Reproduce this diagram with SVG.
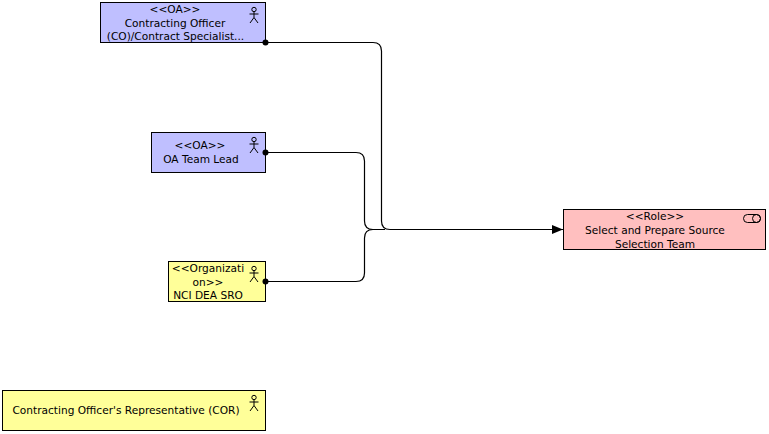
<svg xmlns="http://www.w3.org/2000/svg" width="769" height="434" viewBox="0 0 769 434">
<defs>
<g id="actor" fill="none" stroke="#000" stroke-width="1"><circle cx="0" cy="2.500" r="2.200"/><path d="M0 4.700V10.500M-4.500 7H4.500M0 10.500L-4 16M0 10.500L4 16"/></g>
<marker id="arrow" markerUnits="userSpaceOnUse" markerWidth="12" markerHeight="10" refX="11" refY="4.500" orient="auto"><path d="M0 0L11 4.500L0 9Z" fill="#000"/></marker>
</defs>
<style>
text{font-family:"DejaVu Sans","Liberation Sans",sans-serif;font-size:10.6px;fill:#000;text-anchor:middle}
.box{stroke:#000;stroke-width:1}
.oa{fill:#bfbfff}.org{fill:#ffff99}.role{fill:#ffbfbf}
.conn{fill:none;stroke:#000;stroke-width:1.200}
.dot{fill:#000}
</style>
<rect width="769" height="434" fill="#fff"/>
<g id="node-co">
<rect class="box oa" x="100.500" y="2.500" width="165" height="40"/>
<use href="#actor" x="254" y="7"/>
<text x="175" y="13">&lt;&lt;OA&gt;&gt;</text>
<text x="175" y="27">Contracting Officer</text>
<text x="175.500" y="40">(CO)/Contract Specialist...</text>
</g>
<g id="node-lead">
<rect class="box oa" x="151.500" y="132.500" width="114" height="40"/>
<use href="#actor" x="254" y="137"/>
<text x="200" y="149">&lt;&lt;OA&gt;&gt;</text>
<text x="201" y="163">OA Team Lead</text>
</g>
<g id="node-sro">
<rect class="box org" x="168.500" y="261.500" width="97" height="40"/>
<use href="#actor" x="254" y="266"/>
<text x="208" y="272">&lt;&lt;Organizati</text>
<text x="208" y="286">on&gt;&gt;</text>
<text x="208" y="299">NCI DEA SRO</text>
</g>
<g id="node-cor">
<rect class="box org" x="2.500" y="390.500" width="263" height="40"/>
<use href="#actor" x="254" y="395"/>
<text x="126" y="414">Contracting Officer's Representative (COR)</text>
</g>
<g id="node-role">
<rect class="box role" x="563.500" y="209.500" width="202" height="40"/>
<rect x="743.500" y="214.500" width="17" height="8" rx="4" fill="none" stroke="#000"/>
<circle cx="756.500" cy="218.500" r="4" fill="none" stroke="#000"/>
<text x="655" y="220">&lt;&lt;Role&gt;&gt;</text>
<text x="655" y="234">Select and Prepare Source</text>
<text x="655" y="248">Selection Team</text>
</g>
<g id="connectors">
<path class="conn" d="M266 42.500H373Q381.500 42.500 381.500 51V221Q381.500 229.500 390 229.500H563" marker-end="url(#arrow)"/>
<path class="conn" d="M266 152.500H356Q364.500 152.500 364.500 161V221Q364.500 229.500 373 229.500H385"/>
<path class="conn" d="M266 281.500H356Q364.500 281.500 364.500 273V238Q364.500 229.500 373 229.500H385"/>
<circle class="dot" cx="265.500" cy="42.500" r="3"/>
<circle class="dot" cx="265.500" cy="152.500" r="3"/>
<circle class="dot" cx="265.500" cy="281.500" r="3"/>
</g>
</svg>
